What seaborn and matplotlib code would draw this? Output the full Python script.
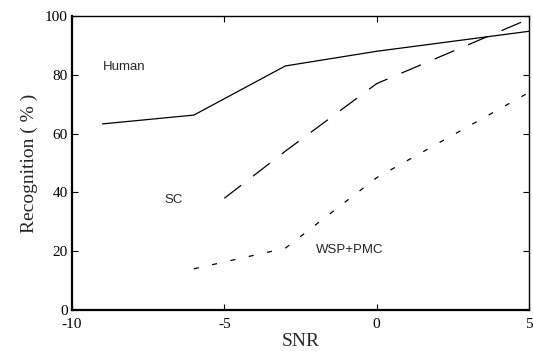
import matplotlib
matplotlib.use("Agg")
import matplotlib.pyplot as plt
import seaborn as sns
import pandas as pd

# Data
human_snr = [-9, -6, -3, 0, 5]
human_rec = [63.3, 66.3, 83.0, 88.0, 94.8]
sc_snr = [-5, -3, 0, 5]
sc_rec = [38.0, 54.0, 77.0, 99.0]
wsp_snr = [-6, -3, 0, 5]
wsp_rec = [14.0, 21.0, 45.0, 74.0]

series_names = ["Human", "SC", "WSP+PMC"]
x_ticks = [-10, -5, 0, 5]
y_ticks = [0, 20, 40, 60, 80, 100]

df = pd.concat([
    pd.DataFrame({"SNR": human_snr, "Recognition": human_rec, "series": "Human"}),
    pd.DataFrame({"SNR": sc_snr, "Recognition": sc_rec, "series": "SC"}),
    pd.DataFrame({"SNR": wsp_snr, "Recognition": wsp_rec, "series": "WSP+PMC"}),
], ignore_index=True)

sns.set_style("ticks")
plt.rcParams["axes.unicode_minus"] = False
plt.rcParams["font.family"] = ["Liberation Serif", "DejaVu Serif"]

fig = plt.figure(figsize=(5.33, 3.51), dpi=100)
ax = fig.add_axes([72 / 533, 41 / 351, 457 / 533, 294 / 351])

sns.lineplot(
    data=df, x="SNR", y="Recognition", hue="series", style="series",
    palette={"Human": "black", "SC": "black", "WSP+PMC": "black"},
    dashes={"Human": "", "SC": (17, 12), "WSP+PMC": (4, 11)},
    linewidth=0.9, legend=False, ax=ax, sort=False,
)

ax.set_xlim(-10, 5)
ax.set_ylim(0, 100)
ax.set_xticks(x_ticks)
ax.set_yticks(y_ticks)
ax.set_xticklabels([str(t) for t in x_ticks])
ax.set_yticklabels([str(t) for t in y_ticks])
ax.tick_params(direction="in", length=4, width=0.8, top=True, right=True,
               labelsize=11, colors="black", pad=3)
ax.tick_params(axis="x", pad=6)
for side in ["left", "bottom"]:
    ax.spines[side].set_linewidth(1.6)
for side in ["top", "right"]:
    ax.spines[side].set_linewidth(1.0)
for s in ax.spines.values():
    s.set_color("black")

ax.set_xlabel("SNR", fontsize=14, labelpad=1)
ax.set_ylabel("Recognition ( % )", fontsize=14, labelpad=5)

label_font = ["Liberation Sans", "DejaVu Sans"]
ax.text(-9.0, 82.5, "Human", fontsize=9.5, family=label_font, va="center", ha="left")
ax.text(-6.98, 37.5, "SC", fontsize=9.5, family=label_font, va="center", ha="left")
ax.text(-1.99, 20.5, "WSP+PMC", fontsize=9.5, family=label_font, va="center", ha="left")

fig.savefig("out.png", dpi=100)
